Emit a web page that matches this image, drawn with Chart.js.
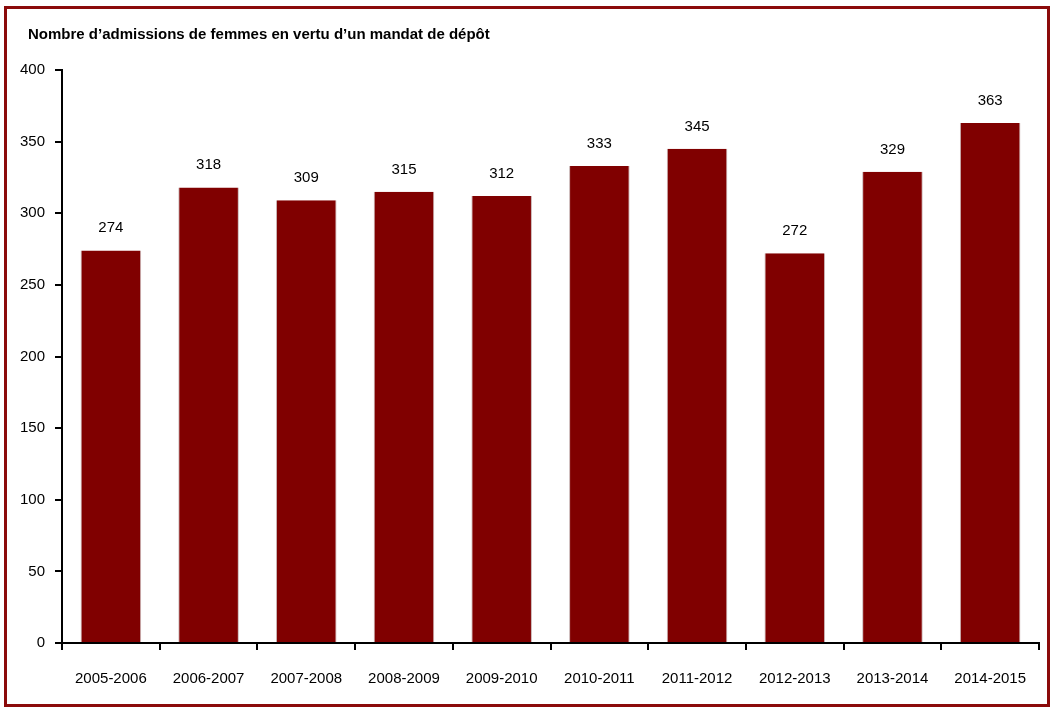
<!DOCTYPE html>
<html>
<head>
<meta charset="utf-8">
<script src="https://cdn.jsdelivr.net/npm/chart.js@4"></script>
<style>
  html, body { margin: 0; padding: 0; background: #fff; }
  #wrap { position: relative; width: 1055px; height: 713px; }
  #cadre { position: absolute; left: 4px; top: 6px; width: 1040px; height: 695px;
           border: 3px solid #8b0a0a; pointer-events: none; }
  canvas { position: absolute; left: 0; top: 0; }
</style>
</head>
<body>
<div id="wrap">
  <canvas id="myChart" width="1055" height="713"></canvas>
  <div id="cadre"></div>
</div>
<script>
// donnees
const titre = "Nombre d\u2019admissions de femmes en vertu d\u2019un mandat de d\u00e9p\u00f4t";
const annees = ["2005-2006", "2006-2007", "2007-2008", "2008-2009", "2009-2010",
                "2010-2011", "2011-2012", "2012-2013", "2013-2014", "2014-2015"];
const admissions = [274, 318, 309, 315, 312, 333, 345, 272, 329, 363];
const graduations = [0, 50, 100, 150, 200, 250, 300, 350, 400];

const police = "'Liberation Sans', Arial, sans-serif";

// titre en haut a gauche
const entete = {
    id: "entete",
    afterDraw(chart) {
        const ctx = chart.ctx;
        ctx.save();
        ctx.font = "bold 15px " + police;
        ctx.fillStyle = "#000";
        ctx.textAlign = "left";
        ctx.textBaseline = "middle";
        ctx.fillText(titre, 28, 35);
        ctx.restore();
    }
};

// etiquettes au-dessus des barres
const etiquettes = {
    id: "etiquettes",
    afterDatasetsDraw(chart) {
        const ctx = chart.ctx;
        const meta = chart.getDatasetMeta(0);
        ctx.save();
        ctx.font = "15px " + police;
        ctx.fillStyle = "#000";
        ctx.textAlign = "center";
        ctx.textBaseline = "alphabetic";
        meta.data.forEach(function(barre, i) {
            ctx.fillText(admissions[i], barre.x, barre.y - 18);
        });
        ctx.restore();
    }
};

new Chart("myChart", {
    type: "bar",
    data: {
        labels: annees,
        datasets: [{
            data: admissions,
            backgroundColor: "#800000",
            borderColor: "#c9b5b5",
            borderWidth: { left: 1, right: 1, top: 0, bottom: 0 },
            categoryPercentage: 0.62,
            barPercentage: 1
        }]
    },
    options: {
        responsive: false,
        animation: false,
        layout: { padding: { left: 10, right: 16, top: 70, bottom: 5 } },
        plugins: {
            legend: { display: false },
            tooltip: { enabled: false },
            title: { display: false }
        },
        scales: {
            y: {
                min: 0,
                max: 400,
                afterBuildTicks(axis) {
                    axis.ticks = graduations.map(v => ({ value: v }));
                },
                border: { color: "#000", width: 2 },
                grid: { drawOnChartArea: false, drawTicks: true, tickLength: 7, color: "#000", lineWidth: 2 },
                ticks: { color: "#000", padding: 10, font: { family: police, size: 15 } }
            },
            x: {
                border: { color: "#000", width: 2 },
                grid: { drawOnChartArea: false, drawTicks: true, tickLength: 7, color: "#000", lineWidth: 2, offset: true },
                ticks: { color: "#000", padding: 20, maxRotation: 0, font: { family: police, size: 15 } }
            }
        }
    },
    plugins: [entete, etiquettes]
});
</script>
</body>
</html>
